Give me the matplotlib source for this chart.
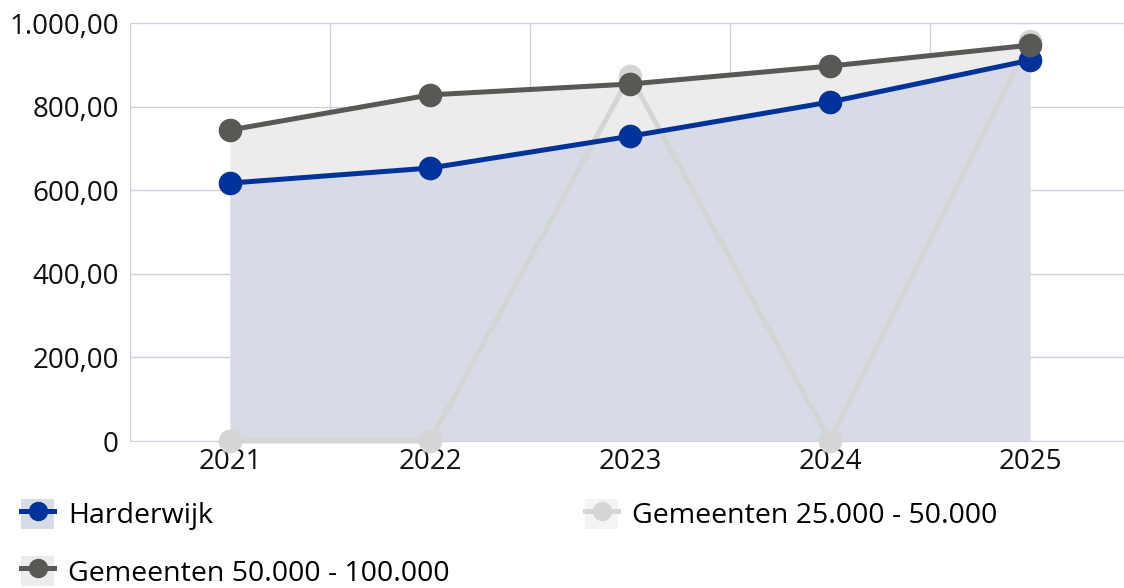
import matplotlib.pyplot as plt
from matplotlib.lines import Line2D
from matplotlib.patches import Patch
from matplotlib.ticker import FixedLocator, FuncFormatter

plt.rcParams["font.family"] = ["Open Sans", "DejaVu Sans"]

# data
years = ["2021", "2022", "2023", "2024", "2025"]
harderwijk = [617, 653, 729, 811, 911]
gem_50_100 = [744, 828, 854, 897, 947]
gem_25_50 = [0, 0, 874, 0, 957]

names = ["Harderwijk", "Gemeenten 50.000 - 100.000", "Gemeenten 25.000 - 50.000"]
c_blue = "#003399"
c_dark = "#575955"
c_light = "#d5d5d5"
f_blue = "#d6dbe6"
f_dark = "#ececec"

fig = plt.figure(figsize=(11.24, 5.88), dpi=100)
ax = fig.add_axes([130 / 1124, 1 - 441 / 588, 1 - 130 / 1124, (441 - 23) / 588])

x = list(range(len(years)))

# filled areas
ax.fill_between(x, 0, gem_50_100, color=f_dark, lw=0, zorder=1)
ax.fill_between(x, 0, harderwijk, color=f_blue, lw=0, zorder=1.5)

# lines
ax.plot(x, gem_25_50, color=c_light, lw=3.6, marker="o", ms=16, zorder=3,
        clip_on=False)
ax.plot(x, harderwijk, color=c_blue, lw=3.6, marker="o", ms=16, zorder=4)
ax.plot(x, gem_50_100, color=c_dark, lw=3.6, marker="o", ms=16, zorder=5)

ax.set_xlim(-0.5, 4.47)
ax.set_ylim(0, 1000)
ax.set_yticks([0, 200, 400, 600, 800, 1000])


def fmt(v, pos):
    if v == 0:
        return "0"
    s = f"{v:,.2f}"
    return s.replace(",", "X").replace(".", ",").replace("X", ".")


ax.yaxis.set_major_formatter(FuncFormatter(fmt))
ax.set_xticks(x)
ax.set_xticklabels(years)
ax.xaxis.set_minor_locator(FixedLocator([-0.5, 0.5, 1.5, 2.5, 3.5]))

ax.grid(axis="y", which="major", color="#ccd3df", lw=1, zorder=0)
ax.grid(axis="x", which="minor", color="#ccd3df", lw=1, zorder=0)
ax.set_axisbelow(True)
for s in ["top", "right", "left"]:
    ax.spines[s].set_visible(False)
ax.spines["bottom"].set_color("#ccd3df")
ax.tick_params(which="both", length=0, labelsize=20, colors="#111111")
ax.tick_params(axis="y", pad=8)
ax.tick_params(axis="x", pad=5)

# legend
handles = []
for c, f in [(c_blue, f_blue), (c_dark, f_dark), (c_light, "#f4f4f4")]:
    handles.append((Patch(facecolor=f, edgecolor="none"),
                    Line2D([], [], color=c, lw=3.6, marker="o", ms=13)))
fig.legend(handles, names, loc="upper left", bbox_to_anchor=(0.019, 0.152),
           ncol=2, frameon=False, fontsize=20.5, handlelength=1.15,
           handleheight=1.25, handletextpad=0.5, columnspacing=4.75,
           labelspacing=0.9, borderaxespad=0, borderpad=0)

plt.savefig("out.png", dpi=100)
